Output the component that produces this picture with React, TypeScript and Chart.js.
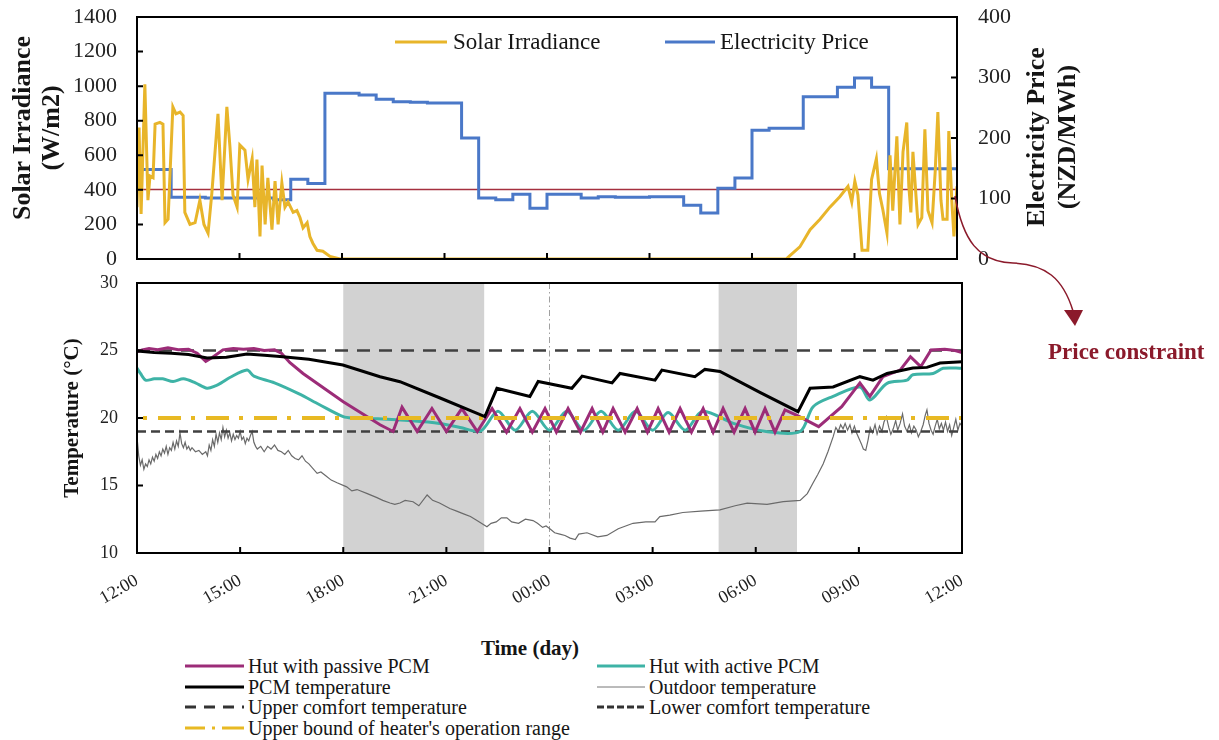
import React, { useEffect, useRef } from "react";
import { Chart, registerables } from "chart.js";

Chart.register(...registerables);

const FONT = "'Liberation Serif', 'Times New Roman', serif";

// ---------- data (hours counted from 12:00 noon) ----------
const timeTickLabels = ["12:00", "15:00", "18:00", "21:00", "00:00", "03:00", "06:00", "09:00", "12:00"];

const priceHours = [0, 0.5, 1, 1.5, 2, 2.5, 3, 3.5, 4, 4.5, 5, 5.5, 6, 6.5, 7, 7.5, 8, 8.5, 9, 9.5, 10, 10.5, 11, 11.5, 12, 12.5, 13, 13.5, 14, 14.5, 15, 15.5, 16, 16.5, 17, 17.5, 18, 18.5, 19, 19.5, 20, 20.5, 21, 21.5, 22, 22.5, 23, 23.5, 24];
const priceValues = [148, 148, 102, 102, 101, 101, 101, 101, 98, 132, 125, 274, 274, 271, 264, 260, 259, 258, 258, 200, 101, 98, 107, 84, 107, 107, 101, 103, 102, 102, 103, 103, 89, 76, 117, 134, 213, 216, 216, 268, 268, 284, 299, 284, 149, 149, 149, 149, 149];
const priceConstraint = 115;

const solarHours = [0, 0.06, 0.12, 0.23, 0.32, 0.38, 0.47, 0.53, 0.67, 0.76, 0.82, 0.91, 1.05, 1.14, 1.26, 1.35, 1.4, 1.55, 1.7, 1.84, 1.96, 2.08, 2.19, 2.37, 2.49, 2.63, 2.72, 2.81, 2.93, 3.01, 3.16, 3.25, 3.37, 3.45, 3.51, 3.6, 3.66, 3.75, 3.83, 3.95, 4.04, 4.13, 4.24, 4.33, 4.42, 4.57, 4.68, 4.77, 4.86, 4.98, 5.06, 5.15, 5.27, 5.44, 5.65, 5.94, 19.0, 19.11, 19.4, 19.7, 19.99, 20.28, 20.57, 20.81, 20.92, 21.01, 21.1, 21.22, 21.39, 21.5, 21.64, 21.73, 21.83, 21.95, 22.04, 22.12, 22.24, 22.33, 22.42, 22.53, 22.59, 22.65, 22.71, 22.83, 22.86, 22.97, 23.06, 23.15, 23.27, 23.36, 23.44, 23.53, 23.59, 23.71, 23.76, 23.85, 23.91, 24.0];
const solarValues = [300, 760, 260, 1010, 340, 480, 470, 780, 790, 780, 210, 230, 880, 840, 850, 830, 270, 200, 210, 340, 200, 150, 380, 840, 340, 880, 650, 370, 300, 660, 630, 460, 580, 300, 575, 130, 540, 200, 470, 170, 450, 200, 440, 300, 330, 270, 280, 240, 180, 210, 130, 90, 50, 45, 15, 0, 0, 20, 70, 170, 230, 300, 360, 420, 330, 450, 370, 50, 50, 460, 580, 380, 285, 150, 600, 280, 710, 200, 620, 790, 420, 270, 620, 280, 200, 240, 750, 280, 210, 500, 850, 340, 230, 230, 740, 330, 130, 420];

const passiveHours = [0, 0.15, 0.35, 0.6, 0.9, 1.2, 1.5, 1.75, 2.0, 2.2, 2.5, 2.8, 3.1, 3.4, 3.7, 4.0, 4.2, 4.45, 4.83, 6.0, 7.07, 7.45, 7.71, 8.15, 8.58, 9.0, 9.45, 9.9, 10.33, 10.75, 11.14, 11.5, 11.87, 12.2, 12.54, 12.9, 13.24, 13.55, 13.85, 14.2, 14.55, 14.85, 15.16, 15.48, 15.8, 16.13, 16.47, 16.76, 17.05, 17.37, 17.69, 17.98, 18.27, 18.56, 18.85, 19.2, 19.83, 20.5, 21.03, 21.32, 21.7, 22.2, 22.5, 22.8, 23.1, 23.5, 23.8, 24];
const passiveTemps = [24.9, 25.05, 25.15, 25.05, 25.2, 25.05, 25.1, 24.8, 24.2, 24.5, 25.05, 25.15, 25.1, 25.15, 25.0, 25.05, 24.8, 24.1, 23.3, 21.2, 19.5, 19.0, 20.8, 19.0, 20.7, 19.0, 20.7, 19.0, 20.7, 18.95, 20.7, 18.95, 20.7, 18.95, 20.7, 18.95, 20.7, 18.95, 20.7, 18.95, 20.7, 18.95, 20.7, 18.95, 20.7, 18.95, 20.7, 18.95, 20.7, 18.95, 20.7, 18.95, 20.7, 18.95, 20.6, 20.2, 19.36, 20.84, 22.6, 21.6, 23.06, 23.55, 24.54, 23.8, 25.04, 25.1, 25.0, 24.85];

const activeHours = [0, 0.1, 0.25, 0.5, 0.75, 1.05, 1.35, 1.7, 2.04, 2.3, 2.45, 2.7, 3.2, 3.4, 4.0, 4.7, 5.3, 6.0, 6.3, 7.0, 8.0, 8.8, 9.4, 10.0, 10.5, 11.0, 11.5, 12.0, 12.5, 13.0, 13.5, 14.0, 14.5, 15.0, 15.45, 15.95, 16.45, 17.35, 18.3, 19.29, 19.67, 20.25, 21.03, 21.32, 21.82, 22.4, 22.57, 23.16, 23.45, 24];
const activeTemps = [23.7, 23.3, 22.8, 22.9, 22.9, 22.7, 22.9, 22.6, 22.2, 22.4, 22.6, 23.0, 23.55, 23.1, 22.6, 21.8, 21.0, 20.1, 20.0, 19.95, 19.8, 19.6, 19.3, 19.05, 20.5, 19.1, 20.5, 19.1, 20.5, 19.1, 20.5, 19.1, 20.5, 19.1, 20.4, 19.1, 20.5, 19.6, 19.0, 19.0, 20.84, 21.6, 22.3, 21.33, 22.57, 22.8, 23.2, 23.3, 23.68, 23.68];

const pcmHours = [0, 0.5, 1.0, 1.5, 2.04, 2.6, 3.2, 3.7, 4.16, 5.0, 5.99, 7.07, 7.65, 8.8, 10.12, 10.47, 11.43, 11.67, 12.65, 12.95, 13.82, 14.05, 15.07, 15.27, 16.23, 16.52, 16.96, 18.12, 19.23, 19.58, 20.25, 21.03, 21.41, 21.82, 22.57, 22.98, 23.36, 24];
const pcmTemps = [24.96, 24.85, 24.8, 24.7, 24.45, 24.5, 24.74, 24.65, 24.55, 24.35, 23.93, 23.06, 22.69, 21.5, 20.1, 22.2, 21.6, 22.7, 22.2, 23.1, 22.6, 23.3, 22.8, 23.55, 23.06, 23.6, 23.45, 21.9, 20.47, 22.2, 22.3, 23.06, 22.8, 23.3, 23.7, 23.75, 24.07, 24.17];

const outdoorHours = [
  0, 0.05, 0.1, 0.15, 0.2, 0.25, 0.3, 0.35, 0.4, 0.45,
  0.5, 0.55, 0.6, 0.65, 0.7, 0.75, 0.8, 0.85, 0.9, 0.95,
  1.0, 1.05, 1.1, 1.15, 1.2, 1.25, 1.3, 1.35, 1.4, 1.45,
  1.5, 1.55, 1.6, 1.7, 1.8, 1.9, 2.0, 2.05, 2.1, 2.15,
  2.2, 2.25, 2.3, 2.35, 2.4, 2.45, 2.5, 2.55, 2.6, 2.65,
  2.7, 2.75, 2.8, 2.85, 2.9, 2.95, 3.0, 3.05, 3.1, 3.15,
  3.2, 3.25, 3.3, 3.35, 3.4, 3.45, 3.5, 3.6, 3.7, 3.8,
  3.9, 4.0, 4.1, 4.2, 4.3, 4.4, 4.5, 4.6, 4.7, 4.8,
  4.9, 5.0, 5.24, 5.35, 5.5, 5.65, 5.82, 6.1, 6.25, 6.4,
  6.7, 6.98, 7.15, 7.36, 7.5, 7.65, 7.8, 8.03, 8.2, 8.44,
  8.6, 8.8, 9.1, 9.3, 9.5, 9.7, 9.89, 10.18, 10.3, 10.45,
  10.6, 10.76, 10.9, 11.1, 11.3, 11.52, 11.65, 11.8, 11.9, 12.01,
  12.15, 12.3, 12.45, 12.6, 12.75, 12.85, 13.09, 13.4, 13.67, 14.0,
  14.43, 14.8, 15.07, 15.21, 15.5, 15.88, 16.4, 16.96, 17.4, 17.75,
  18.33, 18.8, 19.29, 19.5, 19.67, 19.8, 19.96, 20.1, 20.25, 20.33,
  20.4, 20.47, 20.54, 20.6, 20.67, 20.74, 20.8, 20.87, 20.93, 21.0,
  21.07, 21.13, 21.2, 21.27, 21.33, 21.4, 21.47, 21.53, 21.6, 21.67,
  21.73, 21.8, 21.87, 21.93, 22.0, 22.07, 22.13, 22.2, 22.27, 22.33,
  22.4, 22.47, 22.53, 22.6, 22.67, 22.73, 22.8, 22.87, 22.93, 22.98,
  23.04, 23.1, 23.16, 23.22, 23.28, 23.34, 23.4, 23.46, 23.52, 23.58,
  23.64, 23.7, 23.76, 23.82, 23.88, 23.94, 24.0,
];
const outdoorTemps = [
  18.6, 17.2, 16.5, 16.9, 16.2, 16.6, 16.4, 16.9, 16.6, 17.1,
  16.8, 17.3, 17.0, 17.5, 17.2, 17.7, 17.4, 17.9, 17.3, 17.8,
  17.6, 18.2, 17.7, 18.3, 17.9, 18.9, 18.1, 17.8, 18.2, 17.7,
  17.9, 17.6, 17.8, 17.5, 17.6, 17.3, 17.5, 17.2, 18.0, 17.6,
  18.4, 17.9, 18.8, 18.2, 18.9, 18.4, 19.3, 18.6, 19.1, 18.5,
  18.9, 18.3, 18.8, 18.4, 18.7, 18.5, 19.0, 18.4, 18.6, 18.1,
  18.5, 18.3, 18.7, 19.0, 18.2, 17.9, 17.7, 17.9, 17.5, 17.9,
  17.7, 18.0, 17.6, 17.5, 17.3, 17.6, 17.2, 17.0, 16.9, 17.2,
  16.8, 16.6, 15.9, 16.0, 15.7, 15.4, 15.2, 14.9, 14.6, 14.7,
  14.4, 14.1, 13.9, 13.7, 13.6, 13.7, 13.9, 13.8, 13.5, 14.3,
  13.9, 13.7, 13.3, 13.1, 12.9, 12.7, 12.4, 11.95, 12.2, 12.3,
  12.6, 12.6, 12.3, 12.2, 12.5, 12.4, 12.2, 11.9, 12.0, 11.8,
  11.5, 11.4, 11.3, 11.1, 11.0, 11.4, 11.5, 11.2, 11.3, 11.8,
  12.2, 12.3, 12.3, 12.7, 12.8, 13.0, 13.1, 13.2, 13.5, 13.7,
  13.6, 13.8, 13.9, 14.4, 15.2, 15.8, 16.6, 17.5, 18.6, 19.3,
  19.0, 19.5, 19.2, 19.6, 19.1, 19.5, 18.9, 19.4, 18.9, 18.5,
  18.1, 17.7, 17.6, 18.4, 19.3, 18.9, 19.5, 18.8, 19.4, 19.0,
  19.7, 20.1, 19.3, 18.8, 19.2, 19.8, 19.1, 19.6, 20.3, 19.4,
  19.0, 19.5, 18.9, 19.4, 19.1, 18.6, 19.0, 19.5, 20.2, 20.6,
  19.6, 19.1, 18.8, 19.4, 19.9, 19.2, 19.6, 19.1, 19.7, 19.0,
  19.5, 18.7, 19.3, 19.9, 19.1, 19.6, 19.4,
];

const upperComfort = 25;
const lowerComfort = 19;
const heaterUpperBound = 20;

const occupiedStarts = [6.0, 16.92];
const occupiedEnds = [10.1, 19.2];
const midnightHour = 12;

// ---------- helpers ----------
const pts = (xs: number[], ys: number[]) => xs.map((x, i) => ({ x, y: ys[i] }));
const flat = (v: number) => [{ x: 0, y: v }, { x: 24, y: v }];

const framePlugin = {
  id: "frameTicks",
  afterDatasetsDraw(chart: any) {
    const { ctx, chartArea: a, scales } = chart;
    ctx.save();
    ctx.strokeStyle = "#000";
    ctx.lineWidth = 2;
    ctx.strokeRect(a.left, a.top, a.right - a.left, a.bottom - a.top);
    const L = 6;
    ctx.beginPath();
    scales.x.ticks.forEach((t: any) => {
      const px = scales.x.getPixelForValue(t.value);
      ctx.moveTo(px, a.bottom);
      ctx.lineTo(px, a.bottom - L);
    });
    scales.y.ticks.forEach((t: any) => {
      const py = scales.y.getPixelForValue(t.value);
      ctx.moveTo(a.left, py);
      ctx.lineTo(a.left + L, py);
    });
    if (scales.y1) {
      scales.y1.ticks.forEach((t: any) => {
        const py = scales.y1.getPixelForValue(t.value);
        ctx.moveTo(a.right, py);
        ctx.lineTo(a.right - L, py);
      });
    }
    ctx.stroke();
    ctx.restore();
  },
};

const topDecorPlugin = {
  id: "topDecor",
  afterDraw(chart: any) {
    const ctx = chart.ctx;
    ctx.save();
    ctx.fillStyle = "#151515";
    ctx.textAlign = "center";
    ctx.textBaseline = "middle";
    ctx.font = `bold 26px ${FONT}`;
    const vText = (t: string, x: number, y: number) => {
      ctx.save();
      ctx.translate(x, y);
      ctx.rotate(-Math.PI / 2);
      ctx.fillText(t, 0, 0);
      ctx.restore();
    };
    vText("Solar Irradiance", 23, 128);
    vText("(W/m2)", 52, 128);
    vText("Electricity Price", 1037, 137);
    vText("(NZD/MWh)", 1068, 137);
    // legend
    ctx.lineWidth = 3;
    ctx.strokeStyle = "#E8B52A";
    ctx.beginPath();
    ctx.moveTo(395, 42);
    ctx.lineTo(447, 42);
    ctx.stroke();
    ctx.strokeStyle = "#4A78C8";
    ctx.beginPath();
    ctx.moveTo(665, 42);
    ctx.lineTo(715, 42);
    ctx.stroke();
    ctx.font = `23px ${FONT}`;
    ctx.textAlign = "left";
    ctx.fillText("Solar Irradiance", 453, 43);
    ctx.fillText("Electricity Price", 720, 43);
    ctx.restore();
  },
};

const shadePlugin = {
  id: "shade",
  beforeDatasetsDraw(chart: any) {
    const { ctx, chartArea: a, scales } = chart;
    ctx.save();
    ctx.fillStyle = "#D2D2D2";
    occupiedStarts.forEach((s, i) => {
      const x0 = scales.x.getPixelForValue(s);
      const x1 = scales.x.getPixelForValue(occupiedEnds[i]);
      ctx.fillRect(x0, a.top, x1 - x0, a.bottom - a.top);
    });
    const mx = scales.x.getPixelForValue(midnightHour);
    ctx.strokeStyle = "#A0A0A0";
    ctx.lineWidth = 1;
    ctx.setLineDash([6, 3, 1.5, 3]);
    ctx.beginPath();
    ctx.moveTo(mx, a.top);
    ctx.lineTo(mx, a.bottom);
    ctx.stroke();
    ctx.restore();
  },
};

const noPad = (w?: number, h?: number) => (s: any) => {
  if (w !== undefined) s.width = w;
  if (h !== undefined) s.height = h;
  s.paddingTop = 0;
  s.paddingBottom = 0;
  s.paddingLeft = 0;
  s.paddingRight = 0;
};

const plain = (v: any) => String(v);

const line = (extra: any) => ({ pointRadius: 0, pointHoverRadius: 0, tension: 0, fill: false, ...extra });

function topConfig(): any {
  return {
    type: "line",
    data: {
      datasets: [
        line({ label: "Solar Irradiance", data: pts(solarHours, solarValues), yAxisID: "y", borderColor: "#E8B52A", borderWidth: 3, order: 0 }),
        line({ label: "Electricity Price", data: pts(priceHours, priceValues), yAxisID: "y1", borderColor: "#4A78C8", borderWidth: 3, stepped: "before", order: 1 }),
        line({ label: "Price constraint", data: flat(priceConstraint), yAxisID: "y1", borderColor: "#A5303F", borderWidth: 1.5, order: 2 }),
      ],
    },
    options: {
      responsive: false,
      animation: false,
      events: [],
      layout: { padding: { top: 17, left: 0, right: 0, bottom: 0 } },
      plugins: { legend: { display: false }, tooltip: { enabled: false } },
      scales: {
        x: {
          type: "linear", min: 0, max: 24,
          ticks: { display: false, stepSize: 3 },
          grid: { display: false, drawTicks: false, tickLength: 0 },
          border: { display: false },
          afterFit: noPad(undefined, 16),
        },
        y: {
          position: "left", min: 0, max: 1400,
          ticks: { stepSize: 200, padding: 20, color: "#222", font: { family: FONT, size: 22 }, callback: plain },
          grid: { display: false, drawTicks: false, tickLength: 0 },
          border: { display: false },
          afterFit: noPad(137),
        },
        y1: {
          position: "right", min: 0, max: 400,
          ticks: { stepSize: 100, padding: 21, color: "#222", font: { family: FONT, size: 22 }, callback: plain },
          grid: { display: false, drawTicks: false, tickLength: 0 },
          border: { display: false },
          afterFit: noPad(262),
        },
      },
    },
    plugins: [framePlugin, topDecorPlugin],
  };
}

function bottomConfig(): any {
  return {
    type: "line",
    data: {
      datasets: [
        line({ label: "PCM temperature", data: pts(pcmHours, pcmTemps), borderColor: "#000", borderWidth: 3, order: 0 }),
        line({ label: "Upper bound of heater's operation range", data: flat(heaterUpperBound), borderColor: "#E8B923", borderWidth: 4, borderDash: [23, 10, 4, 11], borderDashOffset: 27, order: 1 }),
        line({ label: "Hut with passive PCM", data: pts(passiveHours, passiveTemps), borderColor: "#9C2C78", borderWidth: 3, order: 2 }),
        line({ label: "Hut with active PCM", data: pts(activeHours, activeTemps), borderColor: "#3EB3A6", borderWidth: 3, tension: 0.3, order: 3 }),
        line({ label: "Upper comfort temperature", data: flat(upperComfort), borderColor: "#404040", borderWidth: 2.5, borderDash: [13, 9], order: 4 }),
        line({ label: "Lower comfort temperature", data: flat(lowerComfort), borderColor: "#404040", borderWidth: 2.5, borderDash: [9, 5], order: 5 }),
        line({ label: "Outdoor temperature", data: pts(outdoorHours, outdoorTemps), borderColor: "#6A6A6A", borderWidth: 1.2, order: 6 }),
      ],
    },
    options: {
      responsive: false,
      animation: false,
      events: [],
      layout: { padding: { top: 8, left: 0, right: 257, bottom: 0 } },
      plugins: { legend: { display: false }, tooltip: { enabled: false } },
      scales: {
        x: {
          type: "linear", min: 0, max: 24,
          ticks: {
            stepSize: 3, autoSkip: false, maxRotation: 30, minRotation: 30, padding: 17,
            color: "#222", font: { family: FONT, size: 18 },
            callback: (v: any) => timeTickLabels[Math.round(Number(v) / 3)] ?? "",
          },
          grid: { display: false, drawTicks: false, tickLength: 0 },
          border: { display: false },
          afterFit: noPad(undefined, 67),
        },
        y: {
          position: "left", min: 10, max: 30,
          ticks: { stepSize: 5, padding: 19, color: "#222", font: { family: FONT, size: 18 }, callback: plain },
          grid: { display: false, drawTicks: false, tickLength: 0 },
          border: { display: false },
          title: { display: true, text: "Temperature (°C)", color: "#151515", font: { family: FONT, size: 21, weight: "bold" }, padding: { top: 60, bottom: 0 } },
          afterFit: noPad(137),
        },
      },
    },
    plugins: [shadePlugin, framePlugin],
  };
}

const legendText: React.CSSProperties = { fontFamily: FONT, fontSize: 20, color: "#151515", whiteSpace: "nowrap", lineHeight: "20px" };

function LegendRow(props: { left: number; y: number; w: number; children: React.ReactNode; label: string }) {
  return (
    <div style={{ position: "absolute", left: props.left, top: props.y - 10, height: 20, display: "flex", alignItems: "center" }}>
      <svg width={props.w} height={12} style={{ display: "block", marginRight: 4 }}>
        {props.children}
      </svg>
      <span style={legendText}>{props.label}</span>
    </div>
  );
}

export default function App() {
  const topRef = useRef<HTMLCanvasElement>(null);
  const botRef = useRef<HTMLCanvasElement>(null);

  useEffect(() => {
    const top = new Chart(topRef.current as HTMLCanvasElement, topConfig());
    const bot = new Chart(botRef.current as HTMLCanvasElement, bottomConfig());
    return () => {
      top.destroy();
      bot.destroy();
    };
  }, []);

  return (
    <div style={{ position: "absolute", left: 0, top: 0, width: 1219, height: 740, background: "#fff", overflow: "hidden" }}>
      <canvas ref={topRef} width={1219} height={275} style={{ position: "absolute", left: 0, top: 0, width: 1219, height: 275 }} />
      <canvas ref={botRef} width={1219} height={345} style={{ position: "absolute", left: 0, top: 275, width: 1219, height: 345 }} />

      <div style={{ position: "absolute", left: 430, width: 200, top: 636, textAlign: "center", fontFamily: FONT, fontWeight: "bold", fontSize: 21, color: "#151515", lineHeight: "24px" }}>
        Time (day)
      </div>

      <LegendRow left={185} y={666} w={59} label="Hut with passive PCM">
        <line x1={0} y1={6} x2={59} y2={6} stroke="#9C2C78" strokeWidth={3} />
      </LegendRow>
      <LegendRow left={185} y={687} w={59} label="PCM temperature">
        <line x1={0} y1={6} x2={59} y2={6} stroke="#000" strokeWidth={3} />
      </LegendRow>
      <LegendRow left={185} y={707} w={59} label="Upper comfort temperature">
        <line x1={0} y1={6} x2={59} y2={6} stroke="#333" strokeWidth={3} strokeDasharray="11 8" />
      </LegendRow>
      <LegendRow left={185} y={728} w={59} label="Upper bound of heater's operation range">
        <line x1={0} y1={6} x2={59} y2={6} stroke="#E8B923" strokeWidth={3} strokeDasharray="20 7 3 7 30" />
      </LegendRow>
      <LegendRow left={597} y={666} w={48} label="Hut with active PCM">
        <line x1={0} y1={6} x2={48} y2={6} stroke="#3EB3A6" strokeWidth={3} />
      </LegendRow>
      <LegendRow left={597} y={687} w={48} label="Outdoor temperature">
        <line x1={0} y1={6} x2={48} y2={6} stroke="#777" strokeWidth={1} />
      </LegendRow>
      <LegendRow left={597} y={707} w={48} label="Lower comfort temperature">
        <line x1={0} y1={6} x2={48} y2={6} stroke="#333" strokeWidth={3} strokeDasharray="7 3" />
      </LegendRow>

      <svg width={1219} height={740} style={{ position: "absolute", left: 0, top: 0, pointerEvents: "none" }}>
        <path d="M955,196 C963,240 978,262 1013,263 C1045,264 1063,278 1073,311" fill="none" stroke="#8B1A2B" strokeWidth={1.5} />
        <polygon points="1064,310 1083,310 1075,326" fill="#8B1A2B" />
      </svg>
      <div style={{ position: "absolute", left: 1048, top: 339, fontFamily: FONT, fontWeight: "bold", fontSize: 23, color: "#8B1A2B", whiteSpace: "nowrap", lineHeight: "26px" }}>
        Price constraint
      </div>
    </div>
  );
}
